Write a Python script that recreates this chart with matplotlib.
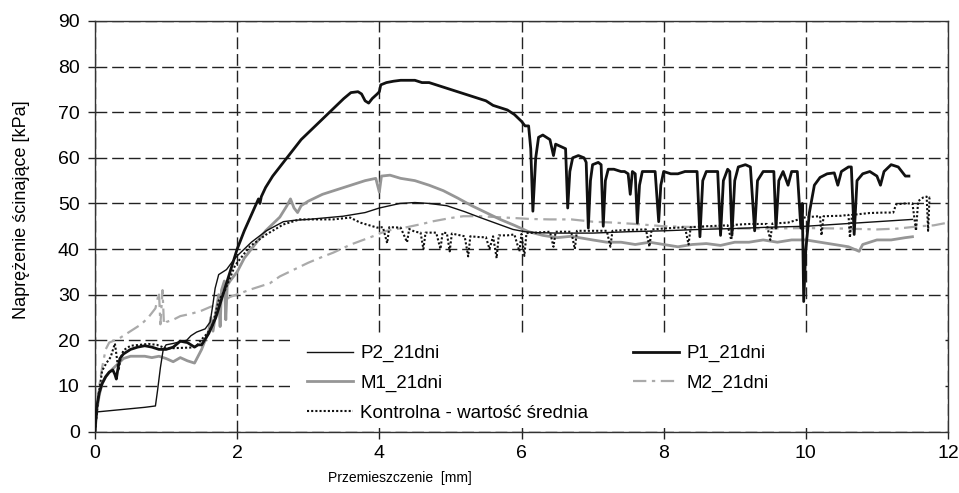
import matplotlib
matplotlib.use("Agg")
import matplotlib.pyplot as plt
from matplotlib.patches import Rectangle

plt.rcParams['font.family'] = ['Liberation Sans', 'DejaVu Sans']

# ---------------- data ----------------
p1_x = [0.00, 0.02, 0.06, 0.10, 0.15, 0.20, 0.25, 0.28, 0.30, 0.32, 0.35, 0.40, 0.50, 0.60, 0.70,
        0.80, 0.90, 1.00, 1.10, 1.20, 1.30, 1.40, 1.45, 1.50, 1.60, 1.70, 1.80, 1.90, 2.00, 2.10,
        2.20, 2.30, 2.32, 2.34, 2.40, 2.50, 2.60, 2.70, 2.80, 2.90, 3.00, 3.10, 3.20, 3.30, 3.40,
        3.50, 3.60, 3.70, 3.75, 3.80, 3.85, 3.90, 3.97, 4.00, 4.02, 4.10, 4.20, 4.30, 4.40, 4.50,
        4.60, 4.70, 4.80, 4.90, 5.00, 5.10, 5.20, 5.30, 5.40, 5.50, 5.60, 5.70, 5.80, 5.90, 6.00,
        6.05, 6.10, 6.13, 6.16, 6.20, 6.24, 6.30, 6.40, 6.45, 6.48, 6.55, 6.62, 6.65, 6.68, 6.72,
        6.80, 6.88, 6.91, 6.94, 6.97, 7.00, 7.08, 7.12, 7.15, 7.18, 7.22, 7.30, 7.40, 7.45, 7.50,
        7.53, 7.56, 7.60, 7.63, 7.66, 7.70, 7.80, 7.88, 7.93, 7.96, 8.00, 8.10, 8.20, 8.30, 8.40,
        8.47, 8.51, 8.55, 8.60, 8.70, 8.76, 8.80, 8.84, 8.90, 8.93, 8.96, 9.00, 9.05, 9.15, 9.22,
        9.28, 9.32, 9.40, 9.50, 9.55, 9.58, 9.62, 9.68, 9.75, 9.80, 9.88, 9.93, 9.95, 9.97, 10.00,
        10.05, 10.12, 10.20, 10.30, 10.40, 10.45, 10.50, 10.60, 10.64, 10.68, 10.72, 10.80, 10.90,
        11.00, 11.05, 11.10, 11.20, 11.30, 11.40, 11.45]
p1_y = [0.0, 5.0, 8.5, 10.5, 12.0, 13.0, 13.5, 12.5, 11.5, 13.5, 16.0, 17.0, 18.0, 18.5, 18.8,
        18.5, 18.0, 18.0, 18.5, 19.8, 19.5, 18.5, 19.0, 19.0, 21.5, 25.0, 30.0, 35.0, 40.0, 44.0,
        47.5, 51.0, 50.0, 51.5, 53.5, 56.0, 58.0, 60.0, 62.0, 64.0, 65.5, 67.0, 68.5, 70.0, 71.5,
        73.0, 74.3, 74.5, 74.0, 72.5, 72.0, 73.0, 74.0, 74.5, 76.0, 76.5, 76.8, 77.0, 77.0, 77.0,
        76.5, 76.5, 76.0, 75.5, 75.0, 74.5, 74.0, 73.5, 73.0, 72.5, 71.5, 71.0, 70.5, 69.5, 68.0,
        67.0, 67.0, 62.0, 48.3, 60.0, 64.5, 65.0, 64.0, 60.5, 63.0, 62.5, 62.0, 49.0, 57.0, 60.0,
        60.5, 60.0, 59.0, 44.6, 55.0, 58.5, 59.0, 58.5, 45.0, 55.0, 57.5, 57.5, 57.0, 57.0, 56.5,
        52.0, 57.0, 56.5, 45.7, 54.0, 57.0, 57.0, 57.0, 46.0, 54.0, 57.0, 56.5, 56.5, 57.0, 57.0,
        57.0, 42.7, 55.0, 57.0, 57.0, 57.0, 43.0, 55.0, 57.5, 57.0, 43.0, 55.0, 58.0, 58.5, 58.0,
        44.0, 55.0, 57.0, 57.0, 57.0, 44.6, 55.0, 57.0, 54.0, 57.0, 57.0, 44.6, 50.0, 28.5, 40.0,
        48.0, 54.0, 55.7, 56.5, 56.7, 54.0, 57.0, 58.0, 58.0, 43.2, 55.0, 56.5, 57.0,
        56.0, 54.0, 57.0, 58.5, 58.0, 56.0, 56.0]

p2_x = [0.00, 0.03, 0.10, 0.30, 0.50, 0.70, 0.85, 0.88, 0.92, 0.96, 1.00, 1.10, 1.20, 1.29, 1.35,
        1.43, 1.55, 1.62, 1.66, 1.69, 1.74, 1.85, 1.94, 2.00, 2.10, 2.20, 2.41, 2.65, 2.80, 3.00,
        3.49, 3.80, 4.00, 4.29, 4.50, 4.70, 4.95, 5.20, 5.42, 5.65, 5.88, 6.05, 6.21, 6.50, 7.00,
        7.50, 8.00, 8.50, 9.00, 9.50, 10.00, 10.50, 11.00, 11.50]
p2_y = [0.0, 4.3, 4.4, 4.7, 5.0, 5.3, 5.6, 9.0, 14.0, 18.0, 19.0, 19.3, 19.7, 20.0, 21.0,
        21.8, 22.5, 24.0, 28.0, 31.4, 34.4, 35.5, 37.4, 38.5, 40.0, 41.5, 44.0, 46.0, 46.3, 46.5,
        47.2, 48.0, 49.0, 50.0, 50.2, 50.0, 49.5, 48.2, 46.9, 45.6, 44.3, 43.8, 43.6, 43.5, 43.5,
        43.8, 44.0, 44.3, 44.5, 44.8, 45.0, 45.5, 46.0, 46.5]

m1_x = [0.00, 0.03, 0.06, 0.10, 0.15, 0.20, 0.30, 0.40, 0.50, 0.60, 0.70, 0.80, 0.90, 1.00, 1.10,
        1.20, 1.30, 1.40, 1.45, 1.50, 1.55, 1.60, 1.63, 1.66, 1.70, 1.74, 1.76, 1.78, 1.82, 1.84,
        1.86, 1.90, 2.00, 2.10, 2.20, 2.30, 2.40, 2.50, 2.60, 2.70, 2.75, 2.80, 2.85, 2.90, 3.00,
        3.20, 3.40, 3.60, 3.80, 3.95, 4.00, 4.03, 4.15, 4.30, 4.50, 4.70, 4.90, 5.10, 5.30, 5.50,
        5.70, 5.90, 6.10, 6.30, 6.50, 6.70, 7.00, 7.20, 7.40, 7.60, 7.80, 8.00, 8.20, 8.40, 8.60,
        8.80, 9.00, 9.20, 9.40, 9.60, 9.80, 10.00, 10.20, 10.40, 10.60, 10.75, 10.80, 11.00, 11.20,
        11.40, 11.50]
m1_y = [0.0, 5.0, 8.0, 10.5, 12.0, 13.0, 14.5, 16.0, 16.5, 16.5, 16.5, 16.2, 16.5, 16.0, 15.3,
        16.2, 15.5, 15.0, 16.5, 18.0, 20.0, 22.0, 25.0, 22.0, 26.0, 30.0, 23.0, 31.0, 33.0, 24.5,
        32.0, 33.0, 35.0, 38.0, 40.0, 42.0, 44.0, 45.5, 47.0, 49.5, 51.0, 49.0, 48.0, 49.5, 50.5,
        52.0, 53.0, 54.0, 55.0, 55.5, 52.5, 56.0, 56.2, 55.5, 55.0, 54.0, 52.8, 51.2, 49.5, 48.0,
        46.5, 45.2, 43.8, 43.0, 42.5, 42.8, 42.0, 41.5, 41.5, 41.0, 41.5, 41.0, 40.5, 41.0, 41.2,
        40.8, 41.5, 41.5, 42.0, 41.5, 42.0, 42.0, 41.5, 41.0, 40.5, 39.5, 41.0, 42.0, 42.0,
        42.5, 42.7]

m2_x = [0.00, 0.03, 0.06, 0.10, 0.15, 0.20, 0.28, 0.35, 0.45, 0.55, 0.65, 0.75, 0.85, 0.90, 0.92,
        0.95, 0.97, 1.00, 1.10, 1.20, 1.35, 1.50, 1.62, 1.75, 1.90, 2.04, 2.20, 2.46, 2.60, 2.80,
        3.00, 3.20, 3.35, 3.60, 3.91, 4.10, 4.39, 4.60, 4.76, 5.00, 5.18, 5.40, 5.65, 5.90, 6.12,
        6.40, 6.70, 7.00, 7.30, 7.60, 8.00, 8.50, 9.00, 9.50, 10.00, 10.50, 11.00, 11.30, 11.60,
        11.80, 12.00]
m2_y = [0.0, 6.0, 10.0, 14.0, 18.0, 19.5, 20.0, 20.5, 21.5, 22.5, 23.5, 25.0, 27.0, 30.5, 23.5,
        31.0, 23.5, 24.0, 24.5, 25.3, 25.8, 26.5, 27.3, 28.0, 29.5, 30.3, 31.2, 32.5, 34.0, 35.5,
        37.0, 38.3, 39.2, 41.0, 42.8, 44.0, 44.8, 45.5, 46.1, 46.8, 47.2, 47.2, 47.0, 46.8, 46.6,
        46.5, 46.5, 46.0, 45.8, 45.5, 45.0, 44.8, 44.5, 44.5, 44.6, 44.5, 44.3, 44.5, 45.0,
        45.2, 45.8]

k_x = [0.00, 0.05, 0.10, 0.16, 0.22, 0.28, 0.30, 0.33, 0.36, 0.40, 0.50, 0.63, 0.75, 0.87, 1.00,
       1.15, 1.34, 1.42, 1.50, 1.58, 1.65, 1.74, 1.83, 1.88, 1.97, 2.18, 2.41, 2.65, 2.88, 3.10,
       3.35, 3.59, 3.73, 3.97, 4.05, 4.11, 4.14, 4.30, 4.39, 4.42, 4.50, 4.58, 4.62, 4.65, 4.80,
       4.86, 4.89, 4.95, 4.99, 5.02, 5.20, 5.25, 5.28, 5.42, 5.50, 5.55, 5.60, 5.65, 5.68, 5.80,
       5.90, 5.97, 6.00, 6.04, 6.07, 6.20, 6.40, 6.45, 6.48, 6.70, 6.75, 6.78, 7.00, 7.20, 7.25,
       7.28, 7.50, 7.75, 7.80, 7.83, 8.00, 8.30, 8.35, 8.38, 8.60, 8.90, 8.95, 8.98, 9.20, 9.45,
       9.50, 9.53, 9.75, 9.90, 10.00, 10.20, 10.22, 10.25, 10.50, 10.60, 10.62, 10.65, 10.90,
       11.10, 11.23, 11.27, 11.40, 11.50, 11.55, 11.58, 11.65, 11.70, 11.72, 11.74, 11.76]
k_y = [0.0, 8.0, 13.3, 15.0, 16.3, 19.3, 17.0, 13.3, 16.0, 17.8, 18.8, 19.0, 19.2, 19.0, 18.2,
       18.3, 18.4, 18.6, 20.2, 21.5, 23.2, 28.7, 31.0, 32.9, 36.4, 40.6, 43.2, 45.4, 46.5, 46.5,
       46.5, 46.9, 45.8, 44.7, 44.8, 41.3, 44.8, 44.7, 41.5, 44.4, 43.8, 43.6, 40.0, 43.6, 43.6,
       40.0, 43.6, 43.5, 39.5, 43.4, 42.8, 38.4, 42.8, 42.6, 42.6, 40.0, 42.8, 38.0, 43.0, 43.0,
       43.2, 39.5, 43.3, 38.5, 43.5, 43.6, 43.8, 40.5, 43.8, 43.8, 40.0, 44.0, 44.0, 44.0, 40.5,
       44.0, 44.2, 44.3, 40.5, 44.3, 44.5, 44.8, 41.0, 44.8, 45.0, 45.2, 42.0, 45.3, 45.5, 45.5,
       42.0, 45.6, 45.8, 46.5, 47.0, 47.2, 43.0, 47.2, 47.3, 47.5, 42.5, 47.5, 47.9,
       48.0, 48.0, 49.8, 50.0, 50.0, 44.0, 50.5, 51.3, 51.5, 44.0, 51.3, 51.0]

x_ticks = [0, 2, 4, 6, 8, 10, 12]
y_ticks = [0, 10, 20, 30, 40, 50, 60, 70, 80, 90]
x_label = "Przemieszczenie  [mm]"
y_label = "Naprężenie ścinające [kPa]"

# ---------------- figure ----------------
W, H = 959, 493
fig = plt.figure(figsize=(W / 100, H / 100), dpi=100)
ax = fig.add_axes([95 / W, 1 - 431.5 / H, 853 / W, 410.5 / H])

ax.set_xlim(0, 12)
ax.set_ylim(0, 90)
ax.set_xticks(x_ticks)
ax.set_yticks(y_ticks)
ax.tick_params(axis='both', direction='out', length=5, width=1, labelsize=14, color='#222222')
ax.tick_params(axis='x', pad=5)
ax.tick_params(axis='y', pad=6)
for s in ax.spines.values():
    s.set_color('#333333')
    s.set_linewidth(1.0)

ax.grid(True, color='#222222', linewidth=1.0, linestyle=(0, (8.5, 3.5)))

# white area behind the legend (hides grid lines as in the reference)
ax.add_patch(Rectangle((290 / W, 1 - 428 / H), (945 - 290) / W, 93 / H,
                       transform=fig.transFigure, facecolor='white', edgecolor='none',
                       zorder=1.7, clip_on=False))

l_p2, = ax.plot(p2_x, p2_y, color='#111111', lw=1.0, label='P2_21dni', zorder=3)
l_m2, = ax.plot(m2_x, m2_y, color='#aaaaaa', lw=1.6, linestyle=(0, (6, 2.5, 1.5, 2.5)),
                label='M2_21dni', zorder=2.5)
l_m1, = ax.plot(m1_x, m1_y, color='#969696', lw=2.0, label='M1_21dni', zorder=2.6)
l_k, = ax.plot(k_x, k_y, color='#111111', lw=1.5, linestyle=(0, (1, 1)),
               label='Kontrolna - wartość średnia', zorder=2.8)
l_p1, = ax.plot(p1_x, p1_y, color='#111111', lw=2.0, label='P1_21dni', zorder=3.2)

leg_kw = dict(loc='upper left', frameon=False, fontsize=13.5, handlelength=2.45,
              handletextpad=0.4, labelspacing=0.66, borderpad=0, borderaxespad=0,
              bbox_transform=fig.transFigure)
leg1 = ax.legend(handles=[l_p2, l_m1, l_k], bbox_to_anchor=(307 / W, 1 - 345 / H), **leg_kw)
ax.add_artist(leg1)
leg2 = ax.legend(handles=[l_p1, l_m2], bbox_to_anchor=(633 / W, 1 - 345 / H), **leg_kw)

ax.set_xlabel(x_label, fontsize=10)
ax.xaxis.set_label_coords(0.358, -0.097)
ax.set_ylabel(y_label, fontsize=13)
ax.yaxis.set_label_coords(-0.076, 0.54)

fig.savefig('out.png', dpi=100)
